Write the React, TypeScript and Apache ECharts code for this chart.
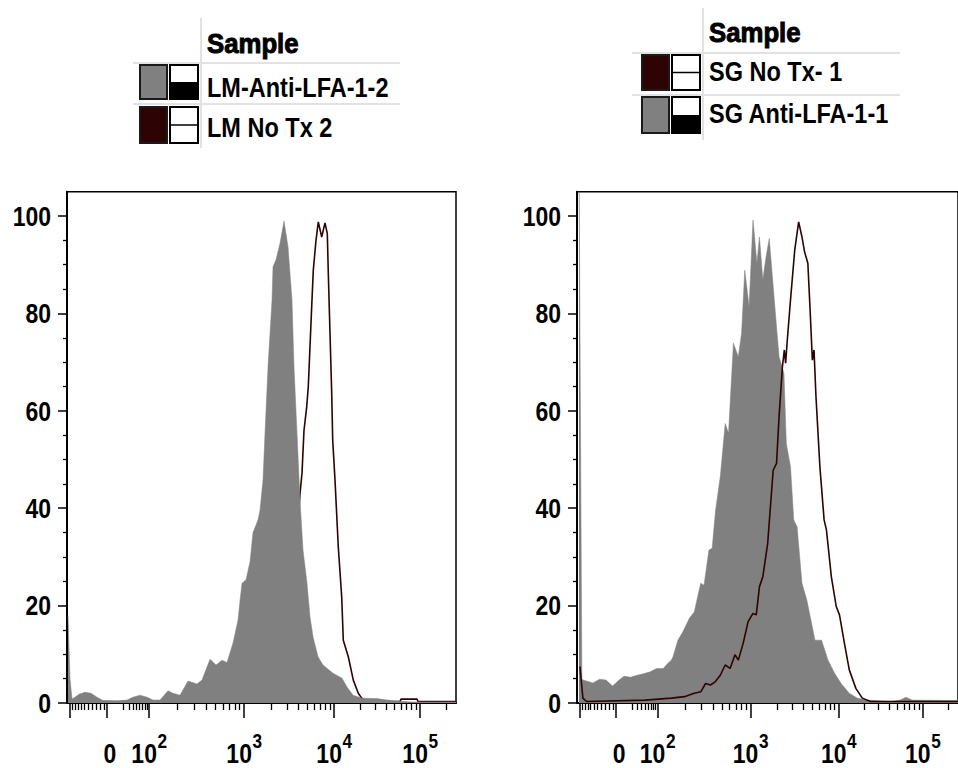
import React, { useEffect, useRef } from "react";
import * as echarts from "echarts";

// ---- Data (x in display-channel units of the biexponential axis, y in % of max) ----
const lmAntiLfa: [number, number][] = [
  [1, 18], [3, 5], [5, 0.8], [8, 1.2], [12, 1.8], [18, 2.2], [24, 2.0], [30, 1.2], [36, 0.5],
  [50, 0.4], [60, 0.6], [66, 1.2], [73, 1.6], [80, 1.2], [86, 0.6], [93, 0.6], [101, 2.5],
  [106, 2.0], [113, 1.6], [121, 4.5], [130, 3.9], [135, 4.7], [143, 9.0], [149, 7.8], [155, 8.8],
  [160, 8.3], [166, 12.3], [171, 17], [173, 21], [175, 24.6], [179, 25.3], [183, 29], [186, 35],
  [191, 37.6], [193, 39.6], [196, 45.8], [198, 55.4], [201, 69], [205, 82.7], [206, 89.6],
  [209, 91], [213, 94.4], [217, 99], [221, 93.7], [225, 82.7], [227, 69], [230, 55.4],
  [233, 41.7], [236, 31.4], [240, 24.6], [243, 17.7], [246, 13.6], [251, 9.5], [256, 7.8],
  [266, 6.1], [275, 5.1], [280, 3.3], [286, 1.6], [295, 1.0], [310, 0.9], [320, 0.6],
  [330, 0.4], [345, 0.2], [389, 0.2],
];
const lmNoTx: [number, number][] = [
  [3, 0.3], [60, 0.3], [150, 0.3], [153, 0.8], [158, 0.3], [200, 0.3], [213, 2], [218, 6],
  [223, 15], [228, 28], [233, 43], [235, 47.2], [237, 56], [239.7, 60.8], [241.3, 65],
  [244.7, 81.4], [246.3, 88.9], [249, 95], [251.3, 98.8], [254.7, 95.7], [258, 98.6],
  [260.3, 96.4], [261.3, 88.3], [263, 76], [264.7, 63.7], [265.7, 54], [268, 45.8],
  [271.3, 32], [274.7, 21.8], [276.3, 12.9], [281.3, 9.5], [286.3, 4.7], [291.3, 2],
  [294.7, 1], [299.7, 0.3], [333, 0.3], [334, 0.8], [350, 0.8], [351, 0.3], [389, 0.3],
];
const sgAntiLfa: [number, number][] = [
  [2, 115], [5, 5], [6.3, 4.7], [11.3, 4.4], [16.3, 4.1], [23, 4.9], [29.7, 4.7], [36.3, 3.5],
  [43, 4.7], [48, 5.5], [54.7, 5.3], [61.3, 5.7], [68, 6], [74.7, 6.4], [81.3, 7.1], [88, 7.1],
  [93, 8.2], [96.3, 8.8], [98, 9.5], [103, 12.9], [108, 14.6], [114.7, 17.4], [119.7, 18.7],
  [126.3, 24.6], [129.7, 24.2], [134.7, 31.4], [138, 31.8], [141.3, 39.3], [146.3, 46.5],
  [151.3, 57.4], [154.7, 55.4], [159.7, 73.9], [164.7, 71.1], [168, 75.9], [171.3, 88.9],
  [175.7, 81.4], [179.7, 99.2], [183.7, 90.3], [186.3, 95.7], [189.7, 86.9], [193, 91.6],
  [196.3, 95.4], [202.3, 80.7], [206.3, 71.1], [211.3, 67.7], [213.7, 53.3], [218, 48.5],
  [221.3, 37.6], [224.7, 36.2], [229.7, 24.6], [234.7, 21.1], [243, 12.9], [249.7, 12.9],
  [256.3, 8.8], [263, 6.1], [269.7, 4], [278, 2], [286.3, 1], [296.3, 0.6], [320, 0.3],
  [330, 0.6], [336, 1.2], [342, 0.6], [389, 0.5],
];
const sgNoTx: [number, number][] = [
  [3, 7.5], [6, 1], [9.7, 0.3], [69.7, 0.6], [96.3, 1], [109.7, 1.3], [119.7, 2], [126.3, 2.3],
  [131.3, 4], [136.3, 3.7], [141.3, 4.4], [146.3, 5.7], [151.3, 7.8], [156.3, 7.1],
  [161.3, 9.9], [164.7, 8.8], [169.7, 12.3], [174.7, 16.7], [179.7, 18.4], [183, 18.1],
  [186.3, 23.9], [189.7, 25.9], [194.7, 32.8], [198, 41.7], [200.3, 47.8], [203.7, 49.2],
  [206.3, 58.8], [209.7, 69], [211.7, 72.5], [213, 69.8], [214.7, 74.5], [218, 82.8],
  [222.3, 93], [226.3, 98.8], [229.7, 95.7], [232.3, 92.7], [235.7, 90.3], [238, 80.7],
  [240.3, 70.4], [242, 72.5], [244, 62.9], [248, 48.5], [252.3, 37.6], [254.7, 35.5],
  [259.7, 25.9], [264.7, 19.8], [268, 18.1], [273, 12.3], [278, 6.8], [284.7, 3], [291.3, 1],
  [299.7, 0.3], [389, 0.3],
];

// ---- Axis ticks / labels ----
const xMajorTicks = [3, 40, 82, 177, 267, 353];
const xLabelPositions = [43, 82, 177, 267, 353];
const xLabelTexts = ["0", "10^2", "10^3", "10^4", "10^5"];
const decadePositions = [82, 177, 267, 353, 439];
const xLowMinorTicks = [5, 8, 11, 14, 17.5, 21, 25, 29, 33, 37, 56, 62, 66, 69.5, 72.5, 75.5, 78, 80];
const yMajorTicks = [0, 20, 40, 60, 80, 100];
const yMinorTicks = [5, 10, 15, 25, 30, 35, 45, 50, 55, 65, 70, 75, 85, 90, 95];

const legendLeft = ["Sample", "LM-Anti-LFA-1-2", "LM No Tx 2"];
const legendRight = ["Sample", "SG No Tx- 1", "SG Anti-LFA-1-1"];

const GRAY = "#808080";
const DARK = "#2e0303";
const FONT = "'Liberation Sans', Arial, sans-serif";
const NARROW = 0.82;
const X_MAX = 389;
const Y_MAX = 105;
const GRIDS = [
  { left: 67, top: 191.7, width: 389, height: 511.3 },
  { left: 577, top: 191.7, width: 389, height: 511.3 },
];

function xMinorTicks(): number[] {
  const out = [...xLowMinorTicks];
  for (let d = 0; d < decadePositions.length - 1; d++) {
    const a = decadePositions[d];
    const w = decadePositions[d + 1] - a;
    for (let m = 2; m <= 9; m++) {
      const p = a + w * Math.log10(m);
      if (p < X_MAX) out.push(p);
    }
  }
  return out;
}

function axesFor(gridIndex: number) {
  const minor = xMinorTicks();
  const xMain = {
    type: "value", gridIndex, min: 0, max: X_MAX,
    axisLine: { show: true, onZero: false, lineStyle: { color: "#000", width: 2 } },
    axisTick: { show: true, length: 15, customValues: xMajorTicks, lineStyle: { color: "#000", width: 1.5 } },
    axisLabel: { show: false },
    splitLine: { show: false },
  };
  const xMinor = {
    type: "value", gridIndex, min: 0, max: X_MAX, position: "bottom",
    axisLine: { show: false, onZero: false },
    axisTick: { show: true, length: 7, customValues: minor, lineStyle: { color: "#000", width: 1.3 } },
    axisLabel: { show: false },
    splitLine: { show: false },
  };
  const yMain = {
    type: "value", gridIndex, min: 0, max: Y_MAX,
    axisLine: { show: true, onZero: false, lineStyle: { color: "#000", width: 2 } },
    axisTick: { show: true, length: 9, customValues: yMajorTicks, lineStyle: { color: "#000", width: 1.5 } },
    axisLabel: { show: false },
    splitLine: { show: false },
  };
  const yMinor = {
    type: "value", gridIndex, min: 0, max: Y_MAX, position: "left",
    axisLine: { show: false, onZero: false },
    axisTick: { show: true, length: 4, customValues: yMinorTicks, lineStyle: { color: "#000", width: 1.3 } },
    axisLabel: { show: false },
    splitLine: { show: false },
  };
  return { x: [xMain, xMinor], y: [yMain, yMinor] };
}

function legendGraphic(
  ox: number, vx: number, vy1: number, vy2: number, hx2: number,
  hy: number[], headerY: number,
  rows: { y: number; h: number; fill: string; half: boolean; textY: number; text: string }[],
  header: string
) {
  const els: any[] = [];
  els.push({ type: "line", shape: { x1: vx, y1: vy1, x2: vx, y2: vy2 }, style: { stroke: "#e2e2e2", lineWidth: 2 } });
  hy.forEach((y) =>
    els.push({ type: "line", shape: { x1: ox, y1: y, x2: hx2, y2: y }, style: { stroke: "#e2e2e2", lineWidth: 2 } })
  );
  els.push({
    type: "text", x: vx + 6, y: headerY, scaleX: 0.92,
    style: { text: header, fontSize: 28, fontWeight: "bold", fontFamily: FONT, fill: "#000", stroke: "#000", lineWidth: 1, verticalAlign: "middle", align: "left" },
  });
  rows.forEach((r) => {
    els.push({ type: "rect", shape: { x: vx - 61, y: r.y, width: 27, height: r.h }, style: { fill: r.fill, stroke: "#1a1a1a", lineWidth: 2 } });
    els.push({ type: "rect", shape: { x: vx - 31, y: r.y, width: 28, height: r.h }, style: { fill: "#fff", stroke: "#000", lineWidth: 2 } });
    if (r.half) {
      els.push({ type: "rect", shape: { x: vx - 31, y: r.y + r.h / 2, width: 28, height: r.h / 2 }, style: { fill: "#000" } });
    } else {
      els.push({ type: "line", shape: { x1: vx - 31, y1: r.y + r.h / 2, x2: vx - 3, y2: r.y + r.h / 2 }, style: { stroke: "#000", lineWidth: 1.5 } });
    }
    els.push({
      type: "text", x: vx + 6, y: r.textY, scaleX: 0.84,
      style: { text: r.text, fontSize: 28, fontWeight: "bold", fontFamily: FONT, fill: "#000", verticalAlign: "middle", align: "left" },
    });
  });
  return els;
}

export default function App() {
  const ref = useRef<HTMLDivElement>(null);
  useEffect(() => {
    if (!ref.current) return;
    const chart = echarts.init(ref.current, undefined, { renderer: "svg" });
    const a0 = axesFor(0);
    const a1 = axesFor(1);
    chart.setOption({
      animation: false,
      backgroundColor: "#fff",
      grid: GRIDS.map((g) => ({ ...g, show: true, borderColor: "#000", borderWidth: 1.5, backgroundColor: "transparent" })),
      xAxis: [...a0.x, ...a1.x],
      yAxis: [...a0.y, ...a1.y],
      series: [
        {
          name: legendLeft[2], type: "line", xAxisIndex: 0, yAxisIndex: 0, data: lmNoTx, showSymbol: false,
          lineStyle: { color: DARK, width: 1.6 }, z: 2,
        },
        {
          name: legendLeft[1], type: "line", xAxisIndex: 0, yAxisIndex: 0, data: lmAntiLfa, showSymbol: false,
          lineStyle: { color: GRAY, width: 0.5 }, areaStyle: { color: GRAY, opacity: 1 }, z: 3,
        },
        {
          name: legendRight[2], type: "line", xAxisIndex: 2, yAxisIndex: 2, data: sgAntiLfa, showSymbol: false,
          lineStyle: { color: GRAY, width: 0.5 }, areaStyle: { color: GRAY, opacity: 1 }, z: 2,
        },
        {
          name: legendRight[1], type: "line", xAxisIndex: 2, yAxisIndex: 2, data: sgNoTx, showSymbol: false,
          lineStyle: { color: DARK, width: 1.6 }, z: 3,
        },
      ],
    });

    // Axis labels placed through the axes' own scales, drawn as narrow bold text
    const labels: any[] = [];
    const textStyle = { fontWeight: "bold", fontFamily: FONT, fill: "#000" };
    [0, 1].forEach((gi) => {
      const xi = gi * 2;
      const yi = gi * 2;
      const g = GRIDS[gi];
      const axisY = g.top + g.height;
      yMajorTicks.forEach((v) => {
        const py = chart.convertToPixel({ yAxisIndex: yi }, v) as number;
        labels.push({
          type: "text", x: g.left - 16, y: py, scaleX: NARROW,
          style: { ...textStyle, text: String(v), fontSize: 28, align: "right", verticalAlign: "middle" },
        });
      });
      xLabelPositions.forEach((v, i) => {
        const px = chart.convertToPixel({ xAxisIndex: xi }, v) as number;
        const t = xLabelTexts[i];
        const baseY = axisY + 50; // centre of the base digits
        if (t.includes("^")) {
          const [b, e] = t.split("^");
          // base "10" and its exponent, grouped and centred on the tick
          const bw = 31; // approx width of "10" at 28px before narrowing
          const ew = 12;
          const total = bw + ew;
          labels.push({
            type: "group", x: px, y: 0, scaleX: NARROW,
            children: [
              { type: "text", x: -total / 2, y: baseY, style: { ...textStyle, text: b, fontSize: 28, align: "left", verticalAlign: "middle" } },
              { type: "text", x: -total / 2 + bw + 1, y: baseY - 12, style: { ...textStyle, text: e, fontSize: 21, align: "left", verticalAlign: "middle" } },
            ],
          });
        } else {
          labels.push({
            type: "text", x: px, y: baseY, scaleX: NARROW,
            style: { ...textStyle, text: t, fontSize: 28, align: "center", verticalAlign: "middle" },
          });
        }
      });
    });

    const graphic = [
      ...legendGraphic(133, 201, 18, 148, 400, [63, 104], 44, [
        { y: 65, h: 34, fill: GRAY, half: true, textY: 87, text: legendLeft[1] },
        { y: 107, h: 36, fill: DARK, half: false, textY: 127, text: legendLeft[2] },
      ], legendLeft[0]),
      ...legendGraphic(632, 703, 8, 140, 900, [53, 95], 33, [
        { y: 55, h: 35, fill: DARK, half: false, textY: 71, text: legendRight[1] },
        { y: 97, h: 36, fill: GRAY, half: true, textY: 113, text: legendRight[2] },
      ], legendRight[0]),
      ...labels,
    ];
    chart.setOption({ graphic });
    return () => chart.dispose();
  }, []);
  return (
    <div
      ref={ref}
      style={{ position: "fixed", left: 0, top: 0, width: 958, height: 768, background: "#fff" }}
    />
  );
}
